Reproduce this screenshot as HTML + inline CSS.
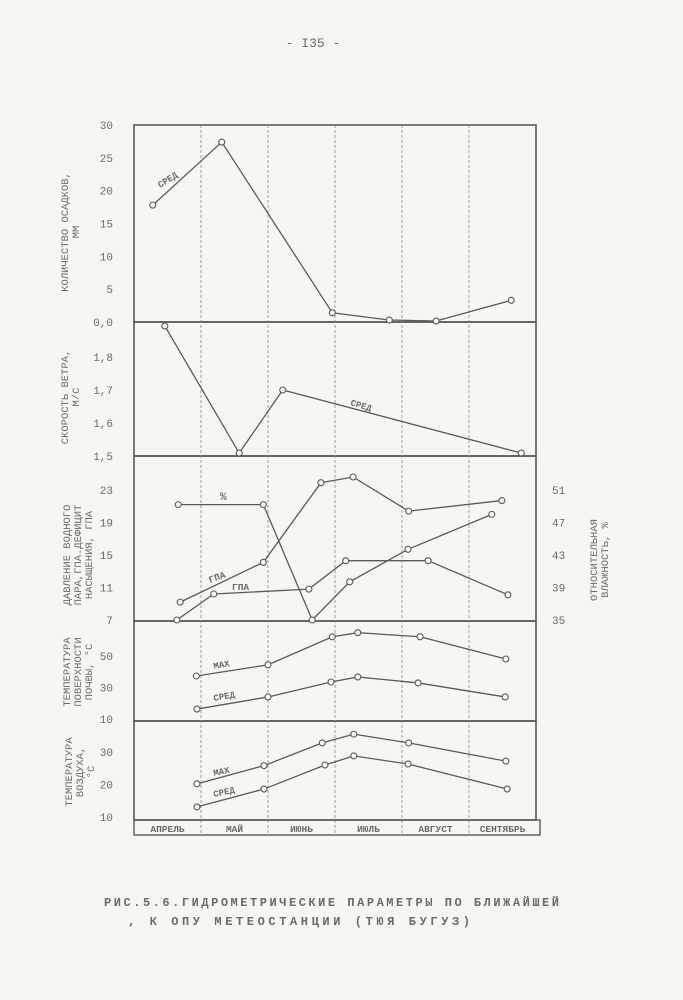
<!DOCTYPE html>
<html><head><meta charset="utf-8"><style>
html,body{margin:0;padding:0;background:#f7f6f3;}
svg{display:block;}
text{font-family:"Liberation Mono","DejaVu Sans Mono",monospace;fill:#6a6a6a;}
</style></head><body>
<svg id="chart" width="683" height="1000" viewBox="0 0 683 1000" xmlns="http://www.w3.org/2000/svg">
<rect width="683" height="1000" fill="#f7f6f3"/>
<text x="313" y="47" font-size="13" text-anchor="middle">- I35 -</text>
<g id="g"></g>
<text x="104" y="906" font-size="12" textLength="455" lengthAdjust="spacing" font-weight="bold">РИС.5.6.ГИДРОМЕТРИЧЕСКИЕ  ПАРАМЕТРЫ ПО БЛИЖАЙШЕЙ</text>
<text x="128" y="925" font-size="12" textLength="342" lengthAdjust="spacing" font-weight="bold">, К ОПУ МЕТЕОСТАНЦИИ (ТЮЯ БУГУЗ)</text>
</svg>
<script>
// month axis
const months = ["АПРЕЛЬ","МАЙ","ИЮНЬ","ИЮЛЬ","АВГУСТ","СЕНТЯБРЬ"];
// panel 1 precipitation (mm)
const precipM = [0.28,1.31,2.96,3.81,4.51,5.63];
const precipV = [17.8,27.4,1.4,0.3,0.15,3.3];
const precipTicks = [0,5,10,15,20,25,30];
// panel 2 wind speed (m/s)
const windM = [0.46,1.57,2.22,5.78];
const windV = [1.894,1.509,1.70,1.509];
const windTicks = [1.5,1.6,1.7,1.8];
// panel 3 vapour pressure / humidity
const humM = [0.66,1.93,2.66,3.22,4.09,5.34];
const humV = [49.2,49.2,35,39.7,43.7,48.0];
const gpaUpM = [0.69,1.93,2.79,3.27,4.1,5.49];
const gpaUpV = [9.2,14.1,23.9,24.6,20.4,21.7];
const gpaLoM = [0.64,1.19,2.61,3.16,4.39,5.58];
const gpaLoV = [7.0,10.2,10.8,14.3,14.3,10.1];
const p3LeftTicks = [7,11,15,19,23];
const p3RightTicks = [35,39,43,47,51];
// panel 4 soil surface temperature
const soilMaxM = [0.93,2.0,2.96,3.34,4.27,5.55];
const soilMaxV = [37.3,44.4,62.2,64.8,62.2,48.1];
const soilAvgM = [0.94,2.0,2.94,3.34,4.24,5.54];
const soilAvgV = [16.3,24.0,33.5,36.7,32.9,24.0];
const soilTicks = [10,30,50];
// panel 5 air temperature
const airMaxM = [0.94,1.94,2.81,3.28,4.1,5.55];
const airMaxV = [20.2,25.8,32.8,35.5,32.8,27.2];
const airAvgM = [0.94,1.94,2.85,3.28,4.09,5.57];
const airAvgV = [13.1,18.6,26.0,28.8,26.3,18.6];
const airTicks = [10,20,30];

const NS="http://www.w3.org/2000/svg";
const G=document.getElementById('g');
const INK="#5a5a5a";
const X0=134, X1=536, MW=(X1-X0)/6;
const xm=m=>X0+m*MW;
function el(t,a,p){const e=document.createElementNS(NS,t);for(const k in a)e.setAttribute(k,a[k]);(p||G).appendChild(e);return e;}
function lin(v0,y0,v1,y1){return v=>y0+(v-v0)*(y1-y0)/(v1-v0);}
const panels=[[125,322],[322,456],[456,621],[621,721],[721,820]];
for(const [t,b] of panels){
  const r=el('rect',{x:X0,y:t,width:X1-X0,height:b-t,fill:'none',stroke:INK,'stroke-width':1.6});
  
  
}
for(let i=1;i<6;i++){
  const l=el('line',{x1:xm(i),x2:xm(i),y1:125,y2:835,stroke:'#8a8a8a','stroke-width':0.8,'stroke-dasharray':'3,2'});
  
  
}
const mr=el('rect',{x:X0,y:820,width:X1-X0+4,height:15,fill:'none',stroke:INK,'stroke-width':1.4});


months.forEach((m,i)=>{
  const t=el('text',{x:xm(i+0.5),y:832,'font-size':9.5,'text-anchor':'middle','font-weight':'bold'});
  t.textContent=m;
  
  
});
function ticks(arr,sy,x,anchor,fmt){
  arr.forEach(v=>{
    const t=el('text',{x:x,y:sy(v)+4,'font-size':11,'text-anchor':anchor});
    t.textContent=fmt?fmt(v):v;
    
    
  });
}
function series(ms,vs,sy,name){
  const pts=ms.map((m,i)=>xm(m)+','+sy(vs[i])).join(' ');
  const p=el('polyline',{points:pts,fill:'none',stroke:INK,'stroke-width':1.3});
  
  
  ms.forEach((m,i)=>{
    const c=el('circle',{cx:xm(m),cy:sy(vs[i]),r:3,fill:'#f7f6f3',stroke:INK,'stroke-width':1.1});
    
    
  });
}
function label(txt,x,y,rot,size,name){
  const t=el('text',{x:x,y:y,'font-size':size||9,transform:'rotate('+(rot||0)+' '+x+' '+y+')','font-weight':'bold'});
  t.textContent=txt;
  
  
}
function ytitle(lines,cx,cy,name){
  const t=el('text',{x:0,y:0,'font-size':10.5,'text-anchor':'middle',transform:'translate('+cx+' '+cy+') rotate(-90)'});
  lines.forEach((s,i)=>{const ts=el('tspan',{x:0,dy:i?11:0},t);ts.textContent=s;});
  
  
}
const y1=lin(0,322,30,125);
ticks(precipTicks,y1,113,'end',v=>v===0?'0,0':v);
series(precipM,precipV,y1,'precipitation');
label('СРЕД',160,188,-32,9,'precip-avg-label');
ytitle(['КОЛИЧЕСТВО ОСАДКОВ,','ММ'],68,232,'precip-axis-title');
const y2=lin(1.5,456,1.8,357);
ticks(windTicks,y2,113,'end',v=>v.toFixed(1).replace('.',','));
series(windM,windV,y2,'wind');
label('СРЕД',350,405,17,9,'wind-avg-label');
ytitle(['СКОРОСТЬ ВЕТРА,','М/С'],68,397,'wind-axis-title');
const y3=lin(7,620,23,490);
const y3r=lin(35,620,51,490);
ticks(p3LeftTicks,y3,113,'end');
ticks(p3RightTicks,y3r,552,'start');
series(humM,humV,y3r,'humidity');
series(gpaUpM,gpaUpV,y3,'vapour-pressure');
series(gpaLoM,gpaLoV,y3,'saturation-deficit');
label('%',220,500,0,11,'humidity-label');
label('ГПА',210,583,-20,9.5,'vapour-label');
label('ГПА',232,590,0,9.5,'deficit-label');
ytitle(['ДАВЛЕНИЕ ВОДНОГО','ПАРА,ГПА.ДЕФИЦИТ','НАСЫЩЕНИЯ, ГПА'],70,555,'vapour-axis-title');
ytitle(['ОТНОСИТЕЛЬНАЯ','ВЛАЖНОСТЬ, %'],597,560,'humidity-axis-title');
const y4=lin(10,719,30,687.5);
ticks(soilTicks,y4,113,'end');
series(soilMaxM,soilMaxV,y4,'soil-max');
series(soilAvgM,soilAvgV,y4,'soil-avg');
label('МАХ',214,669,-10,9,'soil-max-label');
label('СРЕД',214,701,-10,9,'soil-avg-label');
ytitle(['ТЕМПЕРАТУРА','ПОВЕРХНОСТИ','ПОЧВЫ, °С'],70,672,'soil-axis-title');
const y5=lin(10,817,30,752);
ticks(airTicks,y5,113,'end');
series(airMaxM,airMaxV,y5,'air-max');
series(airAvgM,airAvgV,y5,'air-avg');
label('МАХ',214,776,-12,9,'air-max-label');
label('СРЕД',214,797,-12,9,'air-avg-label');
ytitle(['ТЕМПЕРАТУРА','ВОЗДУХА,','°С'],72,772,'air-axis-title');
</script>
</body></html>
